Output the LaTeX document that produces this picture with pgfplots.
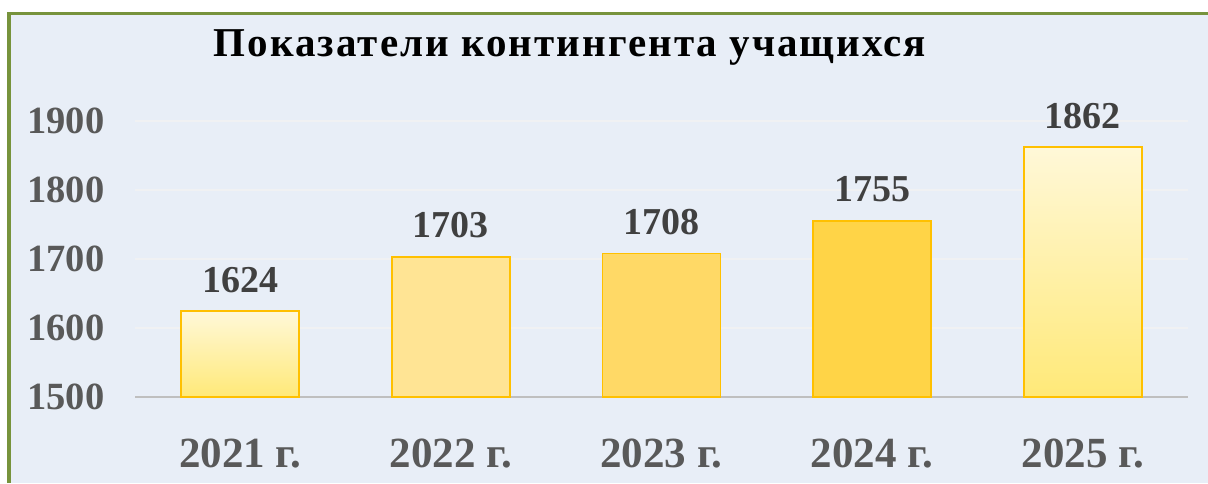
\documentclass[border=0pt]{standalone}
\usepackage{fontspec}
\setmainfont{Liberation Serif}
\newfontfamily\titlefont[LetterSpace=5]{Liberation Serif}
\usepackage{pgfplots}
\pgfplotsset{compat=1.18}
\definecolor{bgc}{HTML}{E8EEF7}
\definecolor{brd}{HTML}{77933C}
\definecolor{gridc}{HTML}{F0F1F3}
\definecolor{axc}{HTML}{BFBFBF}
\definecolor{tickc}{HTML}{595959}
\definecolor{labc}{HTML}{404040}
\definecolor{edge}{HTML}{FFC000}
\definecolor{gtop}{HTML}{FFF8D8}
\definecolor{gbot}{HTML}{FFE978}
\definecolor{b2}{HTML}{FFE494}
\definecolor{b3}{HTML}{FFD966}
\definecolor{b4}{HTML}{FFD447}
\begin{document}
\begin{tikzpicture}
\fill[white] (0pt,0pt) rectangle (1208pt,483pt);
\fill[bgc] (9pt,0pt) rectangle (1208pt,469pt);
\fill[brd] (7pt,0pt) rectangle (11pt,471pt);
\fill[brd] (7pt,468pt) rectangle (1208pt,471pt);
\node[anchor=base, font=\fontsize{41}{41}\titlefont\bfseries, text=black] at (570pt,426pt) {Показатели контингента учащихся};
\begin{axis}[
  at={(135pt,86pt)}, anchor=south west,
  scale only axis, width=1053pt, height=276pt,
  xmin=-0.5, xmax=4.5, ymin=1500, ymax=1900,
  axis x line*=bottom, axis y line*=left,
  x axis line style={draw=axc, line width=2.5pt, -},
  y axis line style={draw=none},
  ytick={1500,1600,1700,1800,1900},
  xtick={0,1,2,3,4},
  xticklabels={2021 г.,2022 г.,2023 г.,2024 г.,2025 г.},
  major tick length=0pt,
  ymajorgrids, grid style={draw=gridc, line width=2pt},
  /pgf/number format/assume math mode=true,
  /pgf/number format/1000 sep={},
  yticklabel style={font=\fontsize{38.5}{38.5}\selectfont\bfseries, text=tickc, xshift=-27pt},
  xticklabel style={font=\fontsize{43}{43}\selectfont\bfseries, text=tickc, yshift=-38pt},
  clip=false,
  ybar, bar width=118pt, bar shift=0pt,
  lab/.style={nodes near coords, every node near coord/.append style={font=\fontsize{38}{38}\selectfont\bfseries, text=labc, yshift=15pt}},
]
\addplot[draw=none, shading=axis, top color=gtop, bottom color=gbot, lab] coordinates {(0,1624)};
\addplot[draw=edge, line width=2pt, fill=none, forget plot] coordinates {(0,1624)};
\addplot[draw=edge, line width=1.5pt, fill=b2, lab] coordinates {(1,1703)};
\addplot[draw=edge, line width=1.5pt, fill=b3, lab] coordinates {(2,1708)};
\addplot[draw=edge, line width=1.5pt, fill=b4, lab] coordinates {(3,1755)};
\addplot[draw=none, shading=axis, top color=gtop, bottom color=gbot, lab] coordinates {(4,1862)};
\addplot[draw=edge, line width=2pt, fill=none, forget plot] coordinates {(4,1862)};
\end{axis}
\end{tikzpicture}
\end{document}
